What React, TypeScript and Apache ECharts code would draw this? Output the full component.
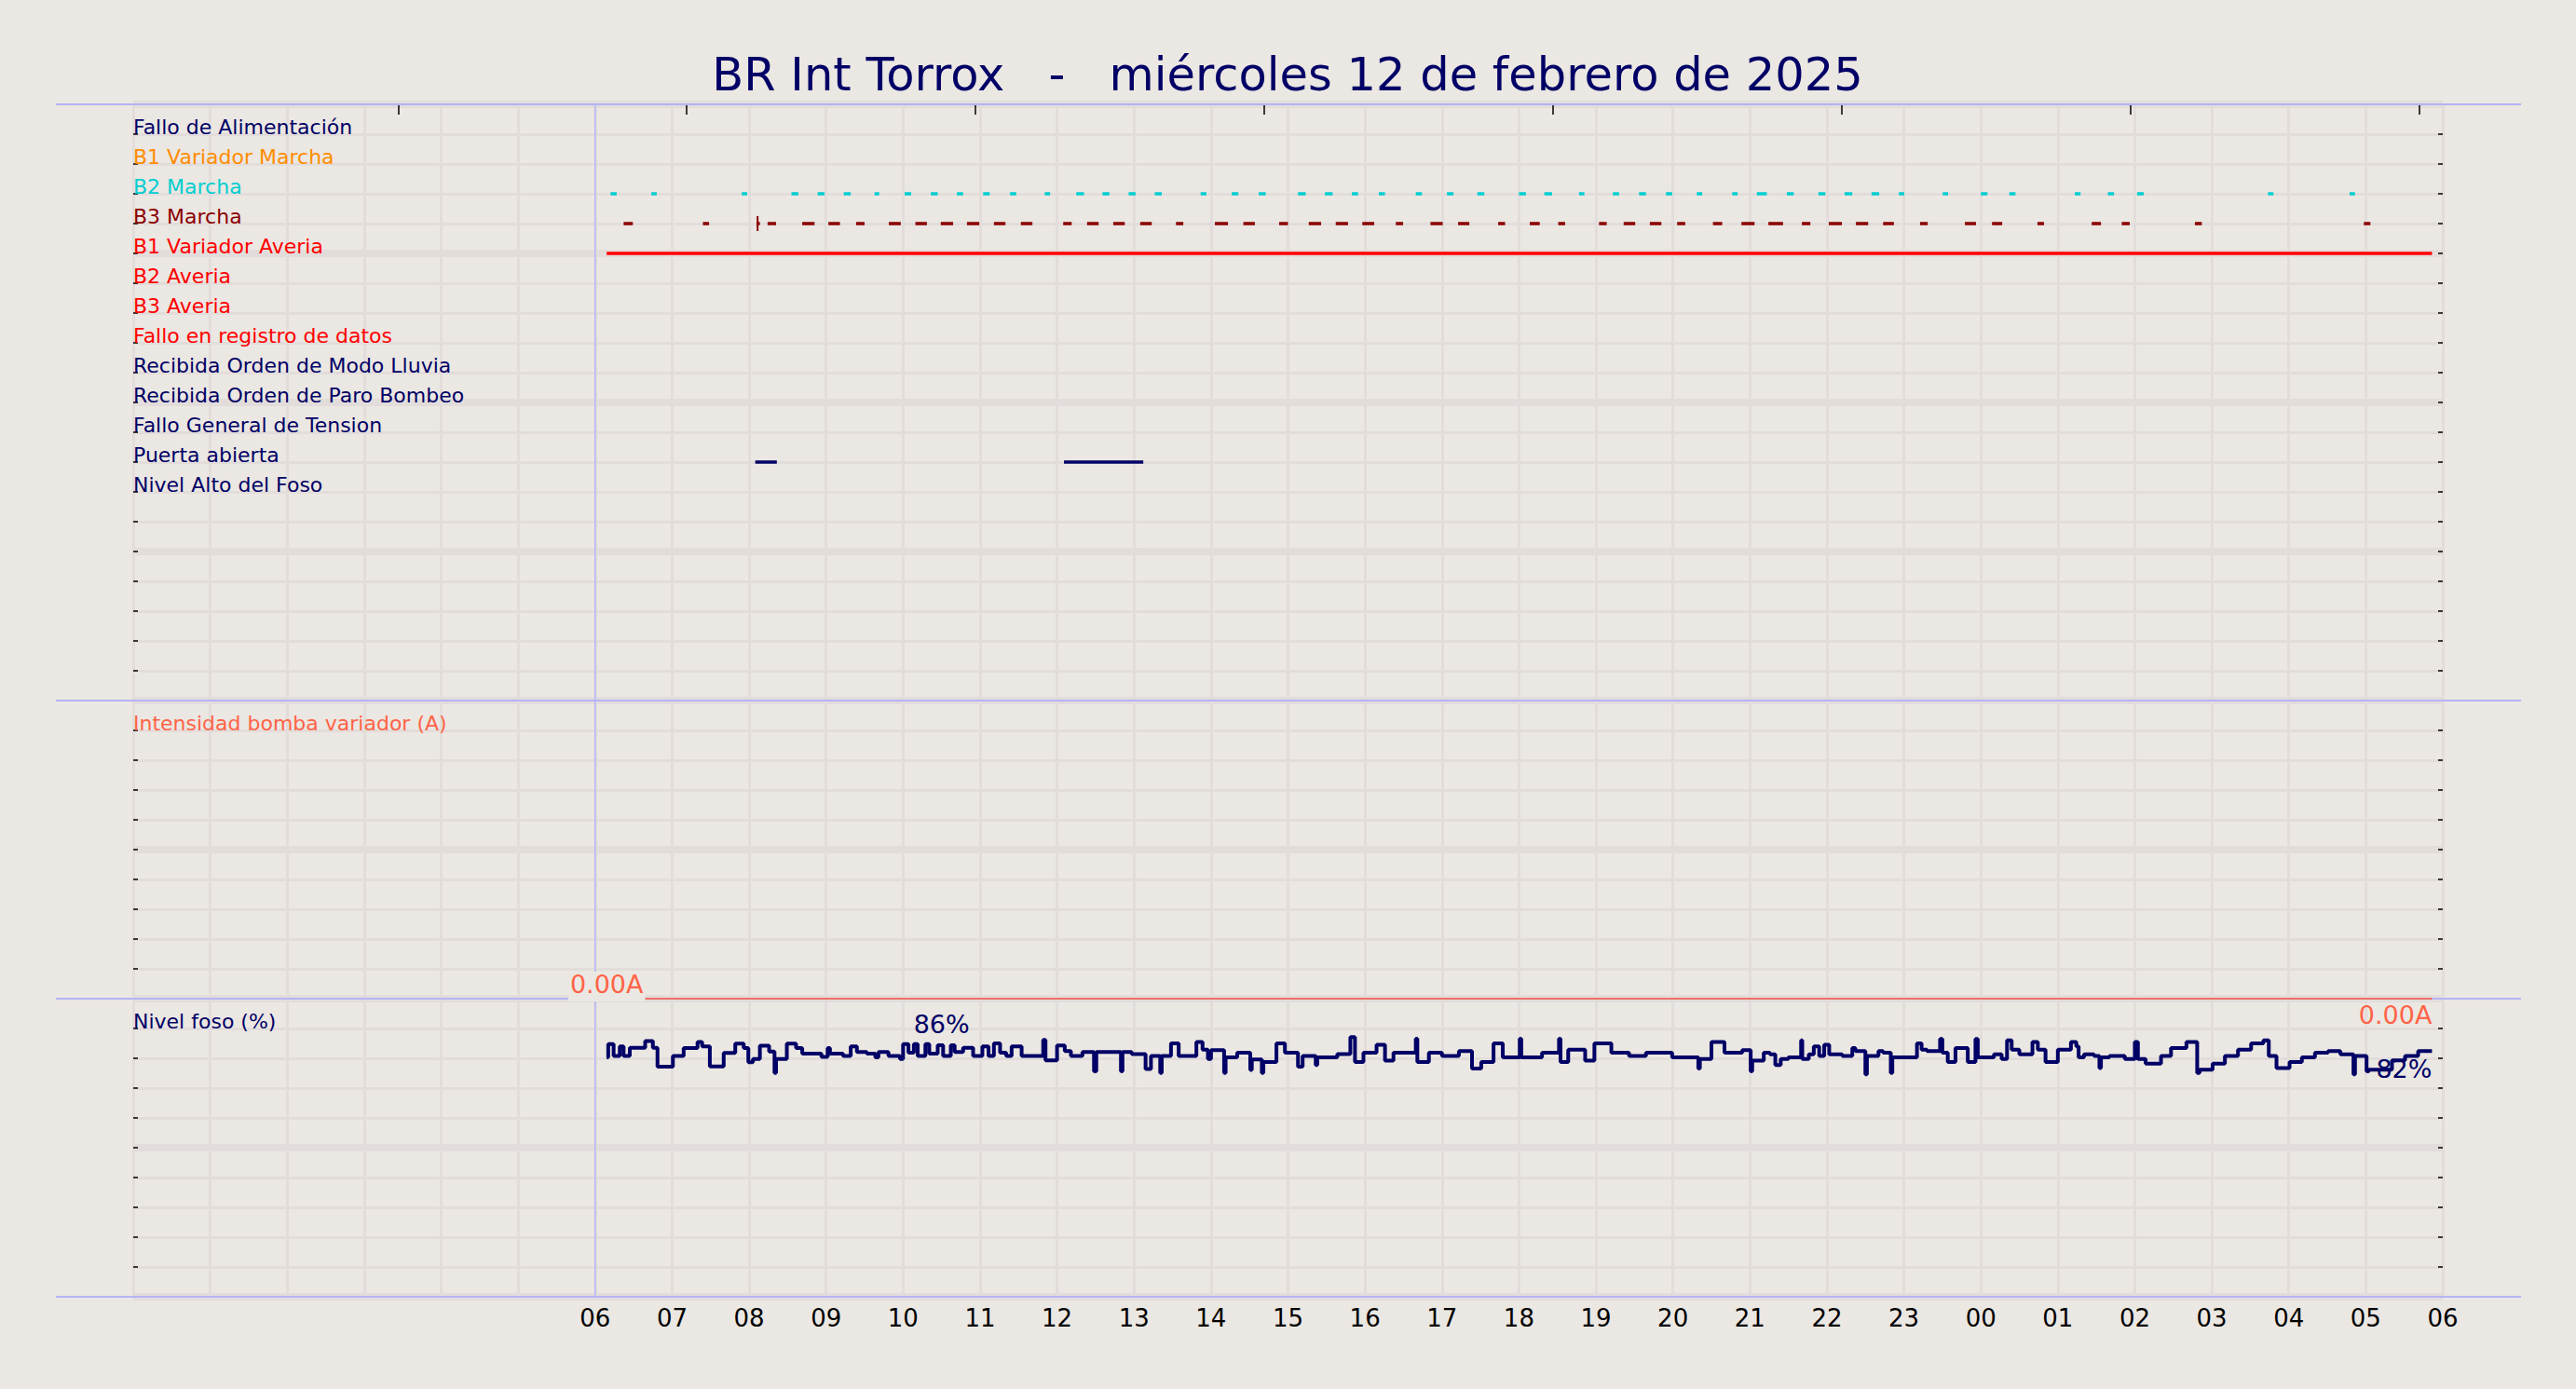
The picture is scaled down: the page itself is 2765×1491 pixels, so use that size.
import React, { useEffect, useRef } from 'react';
import * as echarts from 'echarts';

const TITLE = 'BR Int Torrox   -   miércoles 12 de febrero de 2025';
const NAVY = '#000066';
const BG = '#ebe7e2';
const GRIDC = '#e2dddb';
const BLUE = '#b4b4f5';
const FONT = 'DejaVu Sans';

const signalNames = [
  'Fallo de Alimentación',
  'B1 Variador Marcha',
  'B2 Marcha',
  'B3 Marcha',
  'B1 Variador Averia',
  'B2 Averia',
  'B3 Averia',
  'Fallo en registro de datos',
  'Recibida Orden de Modo Lluvia',
  'Recibida Orden de Paro Bombeo',
  'Fallo General de Tension',
  'Puerta abierta',
  'Nivel Alto del Foso',
];
const signalColors = [
  NAVY, '#ff8c00', '#00ced1', '#8b0000', '#ff0000', '#ff0000', '#ff0000', '#ff0000',
  NAVY, NAVY, NAVY, NAVY, NAVY,
];

// [start, end] in hours from 00:00 of 12/02
const b2Marcha = [
  [6.2, 6.28], [6.73, 6.8], [7.905, 7.975], [8.55, 8.64], [8.89, 8.98], [9.23, 9.32], [9.63, 9.69],
  [10.02, 10.105], [10.36, 10.45], [10.7, 10.78], [11.04, 11.125], [11.39, 11.47], [11.84, 11.91],
  [12.25, 12.35], [12.59, 12.68], [12.93, 13.02], [13.27, 13.36], [13.865, 13.94], [14.27, 14.355],
  [14.62, 14.71], [15.13, 15.23], [15.48, 15.58], [15.83, 15.91], [16.18, 16.26], [16.66, 16.74],
  [17.065, 17.15], [17.46, 17.55], [18.0, 18.09], [18.33, 18.43], [18.78, 18.85], [19.22, 19.3],
  [19.56, 19.65], [19.91, 19.99], [20.31, 20.38], [20.77, 20.84], [21.09, 21.22], [21.48, 21.57],
  [21.89, 21.98], [22.23, 22.33], [22.58, 22.68], [22.935, 23.005], [23.505, 23.575], [24.0, 24.085],
  [24.37, 24.45], [25.22, 25.295], [25.65, 25.73], [26.03, 26.115], [27.73, 27.8], [28.79, 28.86],
];
const b3Marcha = [
  [6.37, 6.49], [7.4, 7.48], [8.1, 8.14], [8.24, 8.35], [8.69, 8.85], [9.03, 9.18], [9.39, 9.5],
  [9.815, 9.97], [10.16, 10.31], [10.49, 10.65], [10.83, 10.99], [11.18, 11.33], [11.53, 11.68],
  [12.08, 12.19], [12.39, 12.54], [12.73, 12.88], [13.08, 13.23], [13.545, 13.64], [14.05, 14.22],
  [14.42, 14.57], [14.885, 15.0], [15.27, 15.43], [15.62, 15.78], [15.965, 16.12], [16.4, 16.495],
  [16.85, 17.01], [17.21, 17.355], [17.73, 17.82], [18.14, 18.27], [18.51, 18.6], [19.04, 19.14],
  [19.36, 19.51], [19.7, 19.85], [20.055, 20.16], [20.52, 20.64], [20.89, 21.06], [21.24, 21.43],
  [21.675, 21.785], [22.025, 22.195], [22.376, 22.536], [22.73, 22.87], [23.21, 23.31],
  [23.793, 23.937], [24.145, 24.277], [24.735, 24.82], [25.44, 25.56], [25.83, 25.934],
  [26.78, 26.87], [28.975, 29.06],
];
const b3Pulsos = [8.11];
const b1VariadorAveria = [[6.15, 29.86]];
const puertaAbierta = [[8.08, 8.36], [12.09, 13.12]];

const intensidadHoras = [6.15, 29.86];
const intensidadValores = [0, 0];

// [hour, level %]
const fosoNivel = [
  [6.15, 80.3], [6.17, 84.8], [6.24, 80.8], [6.32, 84.0], [6.37, 80.8], [6.45, 83.5], [6.65, 85.8],
  [6.75, 83.5], [6.81, 77.2], [7.01, 80.8], [7.15, 83.4], [7.33, 85.5], [7.39, 84.0], [7.49, 77.3],
  [7.67, 81.8], [7.82, 84.9], [7.93, 83.4], [7.99, 78.7], [8.05, 79.8], [8.14, 84.2], [8.26, 82.3],
  [8.33, 75.1], [8.35, 79.8], [8.49, 84.9], [8.61, 83.4], [8.69, 81.6], [8.94, 80.5], [9.02, 83.4],
  [9.05, 81.6], [9.22, 80.8], [9.32, 84.0], [9.4, 82.1], [9.53, 81.6], [9.64, 80.3], [9.68, 82.1],
  [9.81, 80.8], [9.96, 79.8], [10.0, 84.8], [10.07, 81.9], [10.14, 84.8], [10.19, 80.8],
  [10.29, 84.8], [10.34, 81.6], [10.45, 84.4], [10.52, 80.8], [10.62, 84.4], [10.67, 82.1],
  [10.78, 83.5], [10.91, 80.8], [11.03, 84.0], [11.11, 80.8], [11.18, 85.0], [11.26, 81.9],
  [11.34, 80.8], [11.41, 84.0], [11.54, 80.8], [11.82, 86.2], [11.85, 79.3], [12.0, 84.3],
  [12.1, 82.4], [12.18, 80.8], [12.33, 82.1], [12.48, 75.6], [12.51, 82.1], [12.83, 75.6],
  [12.85, 82.1], [12.97, 81.4], [13.15, 76.4], [13.22, 80.8], [13.34, 75.1], [13.36, 80.8],
  [13.48, 85.0], [13.58, 80.8], [13.81, 85.5], [13.89, 82.9], [13.96, 79.8],
  [14.0, 82.7], [14.17, 75.1], [14.19, 80.3], [14.34, 81.9], [14.51, 76.1], [14.53, 79.6],
  [14.66, 75.1], [14.68, 78.75], [14.85, 85.0], [14.96, 81.9], [15.13, 77.2], [15.19, 80.8],
  [15.36, 77.7], [15.38, 80.3], [15.64, 81.4], [15.81, 87.1], [15.87, 78.75], [15.98, 81.9],
  [16.15, 84.5], [16.26, 79.2], [16.37, 81.9], [16.66, 86.6], [16.68, 78.75], [16.83, 81.9],
  [17.0, 80.8], [17.22, 82.4], [17.39, 76.6], [17.51, 78.75], [17.67, 85.0], [17.79, 80.3],
  [18.01, 86.6], [18.03, 80.3], [18.3, 81.9], [18.52, 86.6], [18.54, 78.75], [18.64, 82.9],
  [18.86, 79.2], [18.98, 85.0], [19.2, 81.9], [19.43, 80.8], [19.65, 81.9], [19.99, 80.3],
  [20.33, 76.6], [20.35, 79.8], [20.5, 85.5], [20.67, 81.9], [20.9, 82.7], [21.01, 75.6],
  [21.03, 79.2], [21.18, 81.9],
  [21.26, 81.35], [21.33, 77.7], [21.4, 79.8], [21.5, 80.3], [21.665, 86.0], [21.68, 79.8],
  [21.765, 81.35], [21.83, 83.96], [21.9, 80.8], [21.965, 84.5], [22.03, 81.35], [22.2, 80.8],
  [22.33, 83.4], [22.37, 82.4], [22.5, 74.6], [22.52, 80.8], [22.67, 82.4], [22.73, 81.9],
  [22.83, 75.1], [22.85, 80.3], [23.17, 85.0], [23.23, 82.9], [23.3, 82.4], [23.47, 86.5],
  [23.5, 81.9], [23.57, 78.75], [23.67, 83.4], [23.83, 78.75], [23.93, 86.5], [23.96, 80.3],
  [24.17, 81.35], [24.27, 79.8], [24.34, 86.0], [24.4, 82.9], [24.5, 81.35], [24.67, 85.5],
  [24.74, 82.9], [24.84, 78.75], [25.0, 82.9], [25.17, 85.5], [25.24, 83.96], [25.27, 80.3],
  [25.34, 81.35], [25.47, 80.8], [25.54, 76.7], [25.56, 80.3], [25.67, 80.8], [25.87, 79.8],
  [26.0, 85.5], [26.04, 79.8], [26.14, 78.2], [26.34, 80.8], [26.47, 83.4], [26.67, 85.5],
  [26.81, 75.1], [26.84, 76.15], [27.01, 78.2], [27.17, 80.8], [27.34, 82.9], [27.51, 85.0],
  [27.67, 86.0], [27.74, 80.8], [27.84, 76.7], [28.01, 78.75], [28.17, 80.3], [28.34, 81.9],
  [28.51, 82.4], [28.67, 81.35], [28.84, 74.6], [28.86, 80.8], [29.01, 75.6], [29.04, 76.15],
  [29.34, 79.3], [29.51, 80.8], [29.68, 82.4], [29.86, 82.4],
];

const topTicks = [3.44, 7.19, 10.94, 14.69, 18.44, 22.19, 25.94, 29.69];
const hourMarker = 6;
const xMin = 0;
const xMax = 30;

const fosoMaxLabel = { hour: 10.5, value: 86, text: '86%' };
const fosoLastLabel = { hour: 29.86, value: 82.4, text: '82%' };
const intensidadLabel = '0.00A';

const rowOf = (i: number) => 19 - i;

function buildSignalData() {
  const out: any[] = [];
  const add = (list: number[][], idx: number) =>
    list.forEach(([s, e]) => out.push([s, e, rowOf(idx), idx]));
  add(b2Marcha, 2);
  add(b3Marcha, 3);
  b3Pulsos.forEach((p) => out.push([p, p, rowOf(3), 3]));
  add(b1VariadorAveria, 4);
  add(puertaAbierta, 11);
  return out;
}

function App() {
  const ref = useRef<HTMLDivElement>(null);
  useEffect(() => {
    if (!ref.current) return;
    const chart = echarts.init(ref.current, undefined, { renderer: 'svg' });
    const L = 143, R = 143;
    const grids = [
      { left: L, right: R, top: 112, height: 640 },
      { left: L, right: R, top: 752, height: 320 },
      { left: L, right: R, top: 1072, height: 320 },
    ];
    const pad = (v: number) => String(v % 24).padStart(2, '0');
    const xBase = (g: number) => ({
      type: 'value', gridIndex: g, min: xMin, max: xMax, interval: 1,
      axisLine: { show: false, onZero: false }, axisTick: { show: false },
      splitLine: { show: true, lineStyle: { color: GRIDC, width: 3 } },
      axisLabel: g === 2
        ? { show: true, formatter: (v: number) => (v >= 6 ? pad(v) : ''), fontSize: 26, color: '#000', fontFamily: FONT, margin: 10 }
        : { show: false },
    });
    const ranges = [
      { max: 20, step: 1, thick: 5 },
      { max: 10, step: 1, thick: 5 },
      { max: 100, step: 10, thick: 50 },
    ];
    const panelLabels: Record<number, (v: number) => [string, string]> = {
      0: (v) => {
        const i = 19 - v;
        return [signalNames[i] ?? '', signalColors[i] ?? NAVY];
      },
      1: (v) => (v === 9 ? ['Intensidad bomba variador (A)', '#ff6347'] : ['', NAVY]),
      2: (v) => (v === 90 ? ['Nivel foso (%)', NAVY] : ['', NAVY]),
    };
    const yAxis: any[] = [];
    ranges.forEach((r, g) => {
      yAxis.push({
        type: 'value', gridIndex: g, min: 0, max: r.max, interval: r.step,
        axisLine: { show: false },
        axisTick: { show: true, inside: true, length: 5, lineStyle: { color: '#000', width: 1.5 } },
        splitLine: { show: true, lineStyle: { color: GRIDC, width: 3 } },
        axisLabel: {
          show: true, inside: true, margin: 0, fontSize: 22, fontFamily: FONT,
          verticalAlign: 'bottom', lineHeight: 15,
          formatter: (v: any) => panelLabels[g](Number(v))[0],
          color: (v: any) => panelLabels[g](Number(v))[1],
        },
      });
      yAxis.push({
        type: 'value', gridIndex: g, min: 0, max: r.max, interval: r.thick,
        axisLine: { show: false }, axisTick: { show: false }, axisLabel: { show: false },
        splitLine: { show: true, lineStyle: { color: GRIDC, width: 8 } },
      });
      yAxis.push({
        type: 'value', gridIndex: g, min: 0, max: r.max, interval: r.step, position: 'right',
        axisLine: { show: false },
        axisTick: { show: true, inside: true, length: 5, lineStyle: { color: '#000', width: 1.5 } },
        axisLabel: { show: false }, splitLine: { show: false },
      });
    });

    const markerSeries = ranges.map((r, g) => ({
      type: 'line', xAxisIndex: g, yAxisIndex: g * 3, silent: true, symbol: 'none', z: 1,
      lineStyle: { color: BLUE, width: 1.5 },
      data: [[hourMarker, 0], [hourMarker, r.max]],
    }));

    const option: any = {
      animation: false,
      backgroundColor: BG,
      textStyle: { fontFamily: FONT },
      grid: grids,
      xAxis: [
        xBase(0), xBase(1), xBase(2),
        {
          type: 'value', gridIndex: 0, position: 'top', min: xMin, max: xMax,
          axisLine: { show: false, onZero: false }, axisLabel: { show: false }, splitLine: { show: false },
          axisTick: { show: true, inside: true, length: 11, customValues: topTicks, lineStyle: { color: '#000', width: 1.5 } },
        },
      ],
      yAxis,
      graphic: [
        ...[112, 752, 1072, 1392].map((y) => ({
          type: 'line', silent: true, z: 1,
          shape: { x1: 60, y1: y, x2: 2706, y2: y },
          style: { stroke: BLUE, lineWidth: 2 },
        })),
        {
          type: 'text', x: 1382, y: 80, silent: true,
          style: { text: TITLE, fill: NAVY, fontSize: 49.5, fontFamily: FONT, align: 'center', verticalAlign: 'middle' },
        },
      ],
      series: [
        ...markerSeries,
        {
          type: 'custom', xAxisIndex: 0, yAxisIndex: 0, z: 3, silent: true,
          encode: { x: [0, 1], y: 2 },
          data: buildSignalData(),
          renderItem: (params: any, api: any) => {
            const s = api.value(0), e = api.value(1), row = api.value(2), ci = api.value(3);
            const color = signalColors[ci];
            if (e - s < 0.005) {
              const p1 = api.coord([s, row + 0.25]);
              const p2 = api.coord([s, row - 0.25]);
              return {
                type: 'line', shape: { x1: p1[0], y1: p1[1], x2: p2[0], y2: p2[1] },
                style: { stroke: color, lineWidth: 2 },
              };
            }
            const a = api.coord([s, row]);
            const b = api.coord([e, row]);
            return {
              type: 'rect', shape: { x: a[0], y: a[1] - 1.75, width: b[0] - a[0], height: 3.5 },
              style: { fill: color },
            };
          },
        },
        {
          type: 'line', xAxisIndex: 1, yAxisIndex: 3, symbol: 'none', z: 3, clip: false, silent: true,
          lineStyle: { color: '#ef6f66', width: 2 },
          data: intensidadHoras.map((h, i) => [h, intensidadValores[i]]),
        },
        {
          type: 'scatter', xAxisIndex: 1, yAxisIndex: 3, symbolSize: 0, z: 4, clip: false, silent: true,
          itemStyle: { opacity: 1 },
          data: [
            {
              value: [intensidadHoras[0], intensidadValores[0]],
              label: {
                show: true, position: 'top', distance: 0, offset: [0, 3], formatter: intensidadLabel,
                color: '#ff6347', fontSize: 27, fontFamily: FONT, backgroundColor: BG, padding: [0, 2, 5, 2],
              },
            },
            {
              value: [intensidadHoras[intensidadHoras.length - 1], intensidadValores[intensidadValores.length - 1]],
              label: {
                show: true, position: 'bottom', distance: 4, align: 'right', formatter: intensidadLabel,
                color: '#ff6347', fontSize: 27, fontFamily: FONT,
              },
            },
          ],
        },
        {
          type: 'scatter', xAxisIndex: 2, yAxisIndex: 6, symbolSize: 0, z: 2, clip: false, silent: true,
          itemStyle: { opacity: 1 },
          data: [
            {
              value: [fosoMaxLabel.hour, fosoMaxLabel.value],
              label: { show: true, position: 'top', distance: 4, formatter: fosoMaxLabel.text, color: NAVY, fontSize: 27, fontFamily: FONT },
            },
            {
              value: [fosoLastLabel.hour, fosoLastLabel.value],
              label: { show: true, position: 'bottom', distance: 6, align: 'right', formatter: fosoLastLabel.text, color: NAVY, fontSize: 27, fontFamily: FONT },
            },
          ],
        },
        {
          type: 'line', xAxisIndex: 2, yAxisIndex: 6, symbol: 'none', step: 'end', z: 3, silent: true,
          lineStyle: { color: NAVY, width: 4 },
          data: fosoNivel,
        },
      ],
    };
    chart.setOption(option);
    return () => chart.dispose();
  }, []);
  return (
    <div
      ref={ref}
      style={{ position: 'fixed', left: 0, top: 0, width: 2765, height: 1491, background: BG }}
    />
  );
}

export default App;
